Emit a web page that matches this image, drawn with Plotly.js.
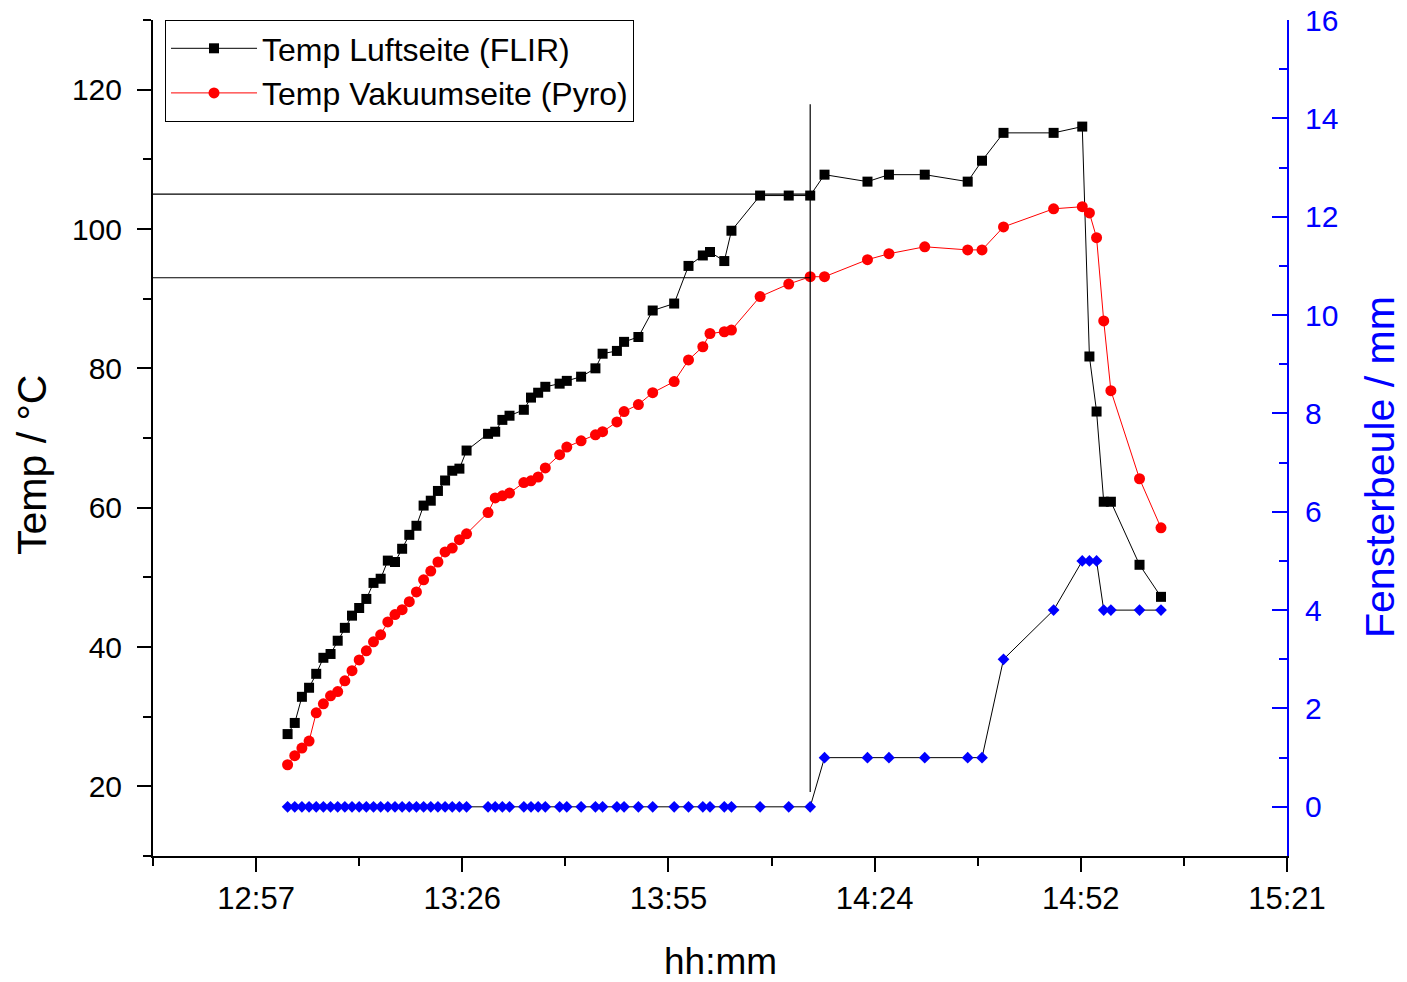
<!DOCTYPE html>
<html>
<head>
<meta charset="utf-8">
<script src="https://cdn.plot.ly/plotly-3.0.1.min.js"></script>
<style>html,body{margin:0;padding:0;background:#fff;}#chart{width:1407px;height:982px;}</style>
</head>
<body>
<div id="chart"></div>
<script>
// ---- data ----
const times = ['13:02','13:03','13:04','13:05','13:06','13:07','13:08','13:09','13:10','13:11',
  '13:12','13:13','13:14','13:15','13:16','13:17','13:18','13:19','13:20','13:21',
  '13:22','13:23','13:24','13:25','13:26','13:27','13:30','13:31','13:32','13:33',
  '13:35','13:36','13:37','13:38','13:40','13:41','13:43','13:45','13:46','13:48',
  '13:49','13:51','13:53','13:56','13:58','14:00','14:01','14:03','14:04','14:08',
  '14:12','14:15','14:17','14:23','14:26','14:31','14:37','14:39','14:42','14:49',
  '14:53','14:54','14:55','14:56','14:57','15:01','15:04'];

const tempLuftseite = [27.5,29.1,32.85,34.15,36.15,38.45,39.0,40.9,42.75,44.5,
  45.6,46.9,49.2,49.8,52.4,52.2,54.1,56.1,57.4,60.3,
  61.0,62.4,63.9,65.3,65.6,68.2,70.6,70.9,72.6,73.2,
  74.05,75.8,76.5,77.35,77.8,78.2,78.8,80.0,82.1,82.5,
  83.8,84.5,88.3,89.3,94.7,96.2,96.7,95.4,99.75,104.8,
  104.8,104.8,107.8,106.8,107.8,107.8,106.8,109.8,113.8,113.8,
  114.7,81.7,73.8,60.85,60.85,51.8,47.2];

const tempVakuumseite = [23.1,24.4,25.5,26.5,30.55,31.85,33.0,33.6,35.15,36.6,
  38.15,39.45,40.75,41.75,43.6,44.65,45.35,46.5,47.9,49.65,
  50.9,52.2,53.65,54.2,55.4,56.25,59.3,61.4,61.7,62.1,
  63.6,63.85,64.4,65.7,67.6,68.7,69.6,70.45,70.9,72.3,
  73.8,74.8,76.5,78.1,81.2,83.1,85.0,85.25,85.5,90.3,
  92.1,93.15,93.15,95.6,96.45,97.45,97.0,97.0,100.3,102.9,
  103.2,102.3,98.75,86.8,76.8,64.15,57.1];

const fensterbeule = [0,0,0,0,0,0,0,0,0,0,
  0,0,0,0,0,0,0,0,0,0,
  0,0,0,0,0,0,0,0,0,0,
  0,0,0,0,0,0,0,0,0,0,
  0,0,0,0,0,0,0,0,0,0,
  0,0,1,1,1,1,1,1,3,4,
  5,5,5,4,4,4,4];

const seriesNames = ['Temp Luftseite (FLIR)', 'Temp Vakuumseite (Pyro)', 'Fensterbeule'];
const tickLabels = ['12:57','13:26','13:55','14:24','14:52','15:21'];
const tickTimes  = ['12:57:36','13:26:24','13:55:12','14:24:00','14:52:48','15:21:36'];
const xRange = ['12:43:12','15:21:36'];

// reference markers (time of the vertical line, temperatures of the horizontal lines)
const refTime = '14:15';
const refTemps = [105, 93];
const refVertical = [19.2, 117.9];

// ---- build ----
const D = t => '2000-01-01 ' + (t.length === 5 ? t + ':00' : t);
const xs = times.map(D);
const FONT = 'Liberation Sans, Arial, sans-serif';

const traces = [
  {x: xs, y: tempLuftseite, name: seriesNames[0], type: 'scatter', mode: 'lines+markers',
   line: {color: '#000000', width: 1}, marker: {symbol: 'square', size: 10, color: '#000000'}},
  {x: xs, y: tempVakuumseite, name: seriesNames[1], type: 'scatter', mode: 'lines+markers',
   line: {color: '#ff0000', width: 1}, marker: {symbol: 'circle', size: 11, color: '#ff0000'}},
  {x: xs, y: fensterbeule, name: seriesNames[2], type: 'scatter', mode: 'lines+markers', yaxis: 'y2',
   showlegend: false,
   line: {color: '#000000', width: 1}, marker: {symbol: 'diamond', size: 9, color: '#0000ff'}}
];

const shapes = [
  ...refTemps.map(v => ({type: 'line', xref: 'x', yref: 'y', x0: D(xRange[0]), x1: D(refTime), y0: v, y1: v,
    line: {color: '#000', width: 1.2}})),
  {type: 'line', xref: 'x', yref: 'y', x0: D(refTime), x1: D(refTime), y0: refVertical[0], y1: refVertical[1],
    line: {color: '#000', width: 1.2}}
];

const layout = {
  width: 1407, height: 982,
  margin: {l: 153, r: 120, t: 20, b: 126, pad: 0},
  paper_bgcolor: '#fff', plot_bgcolor: '#fff',
  font: {family: FONT, size: 30, color: '#000'},
  showlegend: true,
  legend: {x: 0.0106, y: 1, xanchor: 'left', yanchor: 'top', bordercolor: '#000', borderwidth: 1,
    bgcolor: '#fff', font: {family: FONT, size: 32, color: '#000'}, itemwidth: 86, tracegroupgap: 0},
  xaxis: {
    type: 'date', range: xRange.map(D),
    tickmode: 'array', tickvals: tickTimes.map(D), ticktext: tickLabels,
    ticks: 'outside', ticklen: 14, tickwidth: 2, tickcolor: '#000',
    showline: true, linewidth: 2, linecolor: '#000', showgrid: false, zeroline: false,
    minor: {tickmode: 'linear', tick0: D('12:43:12'), dtick: 864000, ticks: 'outside', ticklen: 8, tickwidth: 2, tickcolor: '#000', showgrid: false},
    tickfont: {family: FONT, size: 31, color: '#000'}, fixedrange: true
  },
  yaxis: {
    range: [10, 130], tickmode: 'linear', tick0: 20, dtick: 20,
    ticks: 'outside', ticklen: 14, tickwidth: 2, tickcolor: '#000',
    showline: true, linewidth: 2, linecolor: '#000', showgrid: false, zeroline: false,
    minor: {tickmode: 'linear', tick0: 10, dtick: 10, ticks: 'outside', ticklen: 8, tickwidth: 2, tickcolor: '#000', showgrid: false},
    tickfont: {family: FONT, size: 30, color: '#000'}, ticklabelstandoff: 9
  },
  yaxis2: {
    overlaying: 'y', side: 'right', anchor: 'x',
    range: [-1, 16], tickmode: 'linear', tick0: 0, dtick: 2,
    ticks: 'inside', ticklen: 15, tickwidth: 2, tickcolor: '#0000ff',
    showline: true, linewidth: 2, linecolor: '#0000ff', showgrid: false, zeroline: false,
    minor: {tickmode: 'linear', tick0: 1, dtick: 2, ticks: 'inside', ticklen: 8, tickwidth: 2, tickcolor: '#0000ff', showgrid: false},
    tickfont: {family: FONT, size: 30, color: '#0000ff'}, ticklabelstandoff: 10
  },
  shapes: shapes,
  annotations: [
    {text: 'hh:mm', xref: 'paper', yref: 'paper', x: 0.5, y: -0.1256, xanchor: 'center', yanchor: 'middle',
     showarrow: false, font: {family: FONT, size: 37, color: '#000'}},
    {text: 'Temp / °C', xref: 'paper', yref: 'paper', x: -0.1067, y: 0.4677, xanchor: 'center', yanchor: 'middle',
     textangle: -90, showarrow: false, font: {family: FONT, size: 41, color: '#000'}},
    {text: 'Fensterbeule / mm', xref: 'paper', yref: 'paper', x: 1.082, y: 0.4653, xanchor: 'center', yanchor: 'middle',
     textangle: -90, showarrow: false, font: {family: FONT, size: 41, color: '#0000ff'}}
  ]
};

Plotly.newPlot('chart', traces, layout, {staticPlot: true, displayModeBar: false});
</script>
</body>
</html>
